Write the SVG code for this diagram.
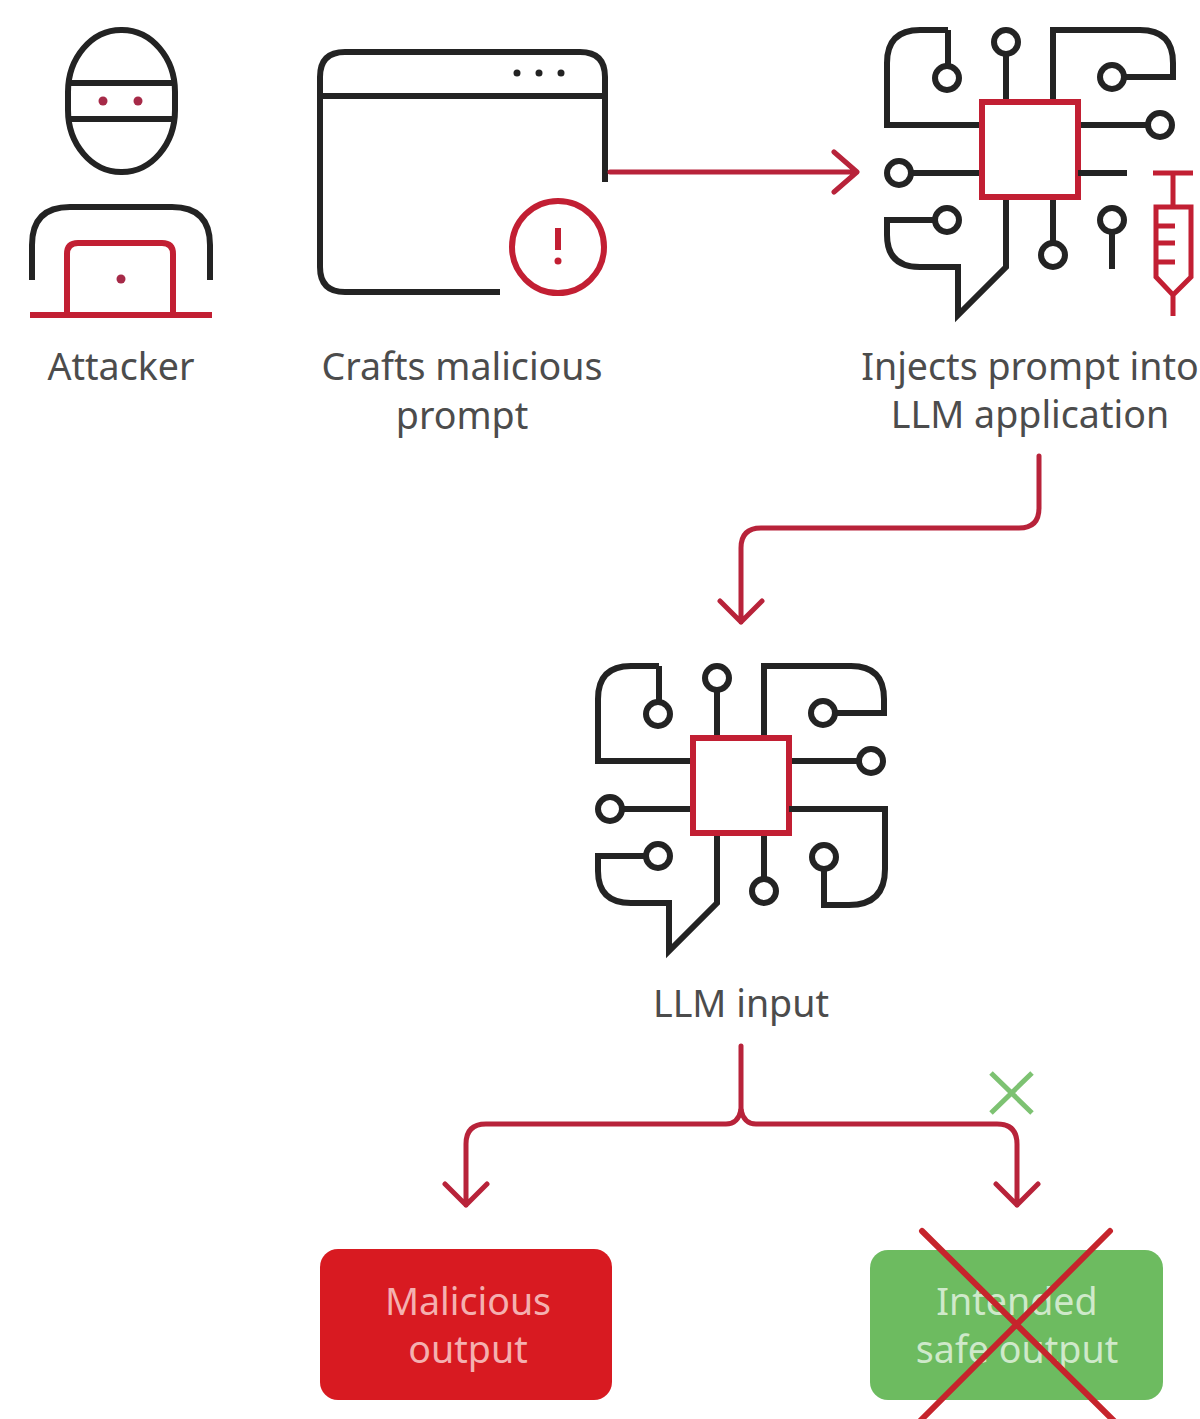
<svg xmlns="http://www.w3.org/2000/svg" width="1200" height="1419" viewBox="0 0 1200 1419">
<style>
.k{fill:none;stroke:#232323;stroke-width:6;stroke-linejoin:miter}
.r{fill:none;stroke:#c21f33;stroke-width:6}
.s{fill:none;stroke:#c21f33;stroke-width:5}
.c{fill:none;stroke:#b8233a;stroke-width:5;stroke-linecap:round;stroke-linejoin:round}
.t{font-family:"Noto Sans","Open Sans",sans-serif;font-size:37.6px;fill:#4c4c4c;text-anchor:middle}
.b{font-family:"Noto Sans","Open Sans",sans-serif;font-size:37.6px;text-anchor:middle}
.dot{fill:#232323}
.rd{fill:#a62a48}
</style>
<defs>
<g id="chip">
<path class="k" d="M948 30H920Q887 30 887 63V125H982"/>
<path class="k" d="M948 30V66"/>
<circle class="k" cx="947" cy="78" r="12"/>
<circle class="k" cx="1006" cy="42" r="12"/>
<path class="k" d="M1006 54V102"/>
<path class="k" d="M1053 102V30H1140Q1173 30 1173 63V77H1125"/>
<circle class="k" cx="1112" cy="77" r="12"/>
<path class="k" d="M1078 125H1148"/>
<circle class="k" cx="1160" cy="125" r="12"/>
<path class="k" d="M911 173H982"/>
<circle class="k" cx="899" cy="173" r="12"/>
<circle class="k" cx="947" cy="220" r="12"/>
<path class="k" d="M935 220H887V235Q887 267 920 267H958V315L1006 267V197"/>
<path class="k" d="M1053 197V243"/>
<circle class="k" cx="1053" cy="255" r="12"/>
<rect class="r" x="982" y="102" width="96" height="95"/>
</g>
</defs>

<g id="attacker">
<rect class="k" x="68" y="30" width="107" height="142" rx="53" ry="62"/>
<path class="k" d="M68 83H175M68 119H175"/>
<circle class="rd" cx="103" cy="101" r="4.5"/>
<circle class="rd" cx="138" cy="101" r="4.5"/>
<path class="k" d="M32 280V245Q32 207 70 207H172Q210 207 210 245V280"/>
<path class="r" d="M67 315V254Q67 243 78 243H162Q173 243 173 254V315"/>
<path class="r" d="M30 315H212"/>
<circle class="rd" cx="121" cy="279" r="4.5"/>
<text class="t" x="121" y="380">Attacker</text>
</g>

<g id="crafts-prompt">
<path class="k" d="M500 292H345Q320 292 320 267V77Q320 52 345 52H580Q605 52 605 77V182"/>
<path class="k" d="M320 96H605"/>
<circle class="dot" cx="517" cy="73" r="3.5"/>
<circle class="dot" cx="539" cy="73" r="3.5"/>
<circle class="dot" cx="561" cy="73" r="3.5"/>
<circle class="r" cx="558" cy="247" r="46"/>
<path d="M558 228V250" fill="none" stroke="#c21f33" stroke-width="6"/>
<circle cx="558" cy="261" r="3.5" fill="#c21f33"/>
<text class="t" x="462" y="380">Crafts malicious</text>
<text class="t" x="462" y="429">prompt</text>
</g>

<g id="inject-llm">
<use href="#chip"/>
<path class="k" d="M1078 173H1127"/>
<circle class="k" cx="1112" cy="220" r="12"/>
<path class="k" d="M1112 232V269"/>
<g id="syringe">
<path class="s" d="M1153 173H1193M1173 173V207M1156 207H1191V277L1173 295L1156 277ZM1173 295V316M1156 226H1175M1156 243H1175M1156 262H1175"/>
</g>
<text class="t" x="1030" y="380">Injects prompt into</text>
<text class="t" x="1030" y="428">LLM application</text>
</g>

<g id="llm-input">
<use href="#chip" transform="translate(-289 636)"/>
<g transform="translate(-289 636)">
<path class="k" d="M1078 173H1174V233Q1174 269 1138 269H1113V233"/>
<circle class="k" cx="1113" cy="221" r="12"/>
</g>
<text class="t" x="741" y="1017">LLM input</text>
</g>

<g id="malicious-output">
<rect x="320" y="1249" width="292" height="151" rx="18" fill="#d81a21"/>
<text class="b" x="468" y="1315" fill="#f4b0b0">Malicious</text>
<text class="b" x="468" y="1363" fill="#f4b0b0">output</text>
</g>

<g id="safe-output">
<rect x="870" y="1250" width="293" height="150" rx="18" fill="#6dbb60"/>
<text class="b" x="1017" y="1315" fill="#cfe9ca">Intended</text>
<text class="b" x="1017" y="1363" fill="#cfe9ca">safe output</text>
<path d="M922 1231L1114 1421M1110 1231L920 1421" fill="none" stroke="#c6242c" stroke-width="6" stroke-linecap="round"/>
</g>

<g id="green-x">
<path d="M991 1073L1032 1113M1032 1073L991 1113" fill="none" stroke="#7dc272" stroke-width="5"/>
</g>

<g id="connectors">
<path class="c" d="M610 172H856M834 152L857 172L834 192"/>
<path class="c" d="M1039 456V508Q1039 528 1019 528H761Q741 528 741 548V622M720 601L741 622L762 601"/>
<path class="c" d="M741 1046V1110"/>
<path class="c" d="M741 1110Q738 1124 726 1124H486Q466 1124 466 1144V1205M445 1184L466 1205L487 1184"/>
<path class="c" d="M741 1110Q744 1124 756 1124H997Q1017 1124 1017 1144V1205M996 1184L1017 1205L1038 1184"/>
</g>
</svg>
